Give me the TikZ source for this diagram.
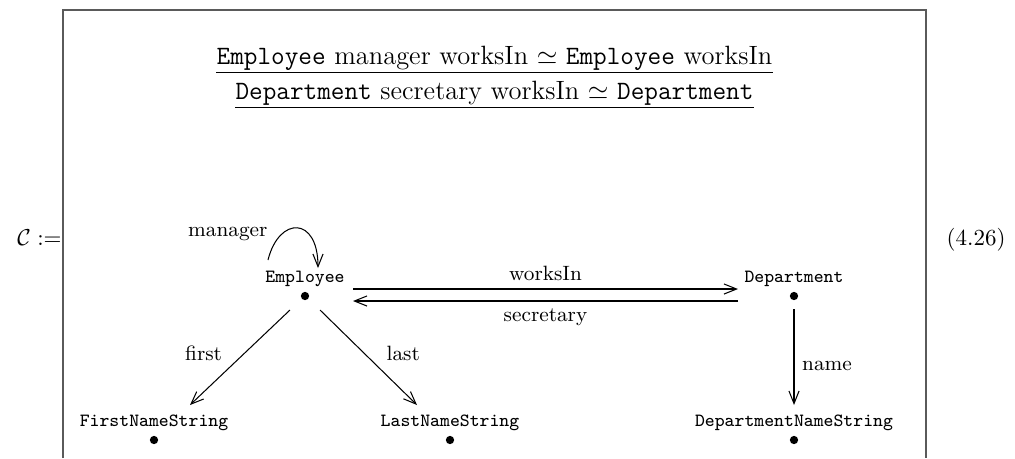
\documentclass[tikz,border=0pt]{standalone}
\usepackage{fix-cm}
\usepackage{amsmath}
\usepackage{amssymb}
\usepackage{xcolor}
\usepackage{tikz}
\usetikzlibrary{arrows.meta,positioning,calc}
\definecolor{FrameGray}{HTML}{5A5A5A}

\begin{document}
\begin{tikzpicture}[x=0.01528cm, y=-0.01528cm,
  every node/.style={font=\fontsize{9}{11}\selectfont},
  dotv/.style={circle, fill, inner sep=0pt, minimum size=3.6pt},
  vlbl/.style={font=\fontsize{8.1}{10}\selectfont\ttfamily, inner sep=0pt},
  arr/.style={-{Straight Barb[length=5.5pt, width=4.4pt]}, line width=0.45pt}]
  \useasboundingbox (0,0) rectangle (1015,458);
  % frame, open at the bottom
  \draw[FrameGray, line width=0.7pt] (63,458) -- (63,10) -- (926,10) -- (926,458);

  \node[anchor=east, inner sep=0pt, font=\fontsize{10}{12}\selectfont] (cdef) at (62,238) {$\mathcal{C} :=$};
  \node[anchor=east, inner sep=0pt, font=\fontsize{10}{12}\selectfont] (eqno) at (1006,240) {(4.26)};

  % path equation
  \node[inner sep=0pt, font=\fontsize{11.5}{14}\selectfont] (eq1) at (494.5,58) {\texttt{Employee} manager worksIn $\simeq$ \texttt{Employee} worksIn};
  \node[inner sep=0pt, font=\fontsize{11.5}{14}\selectfont] (eq2) at (494.5,93) {\texttt{Department} secretary worksIn $\simeq$ \texttt{Department}};
  \draw[line width=0.5pt] ($(eq1.south west)+(0,2)$) -- ($(eq1.south east)+(0,2)$);
  \draw[line width=0.5pt] ($(eq2.south west)+(0,2)$) -- ($(eq2.south east)+(0,2)$);

  % objects
  \node[dotv] (emp) at (305,296) {};
  \node[dotv] (dep) at (794,296) {};
  \node[dotv] (fns) at (154,440) {};
  \node[dotv] (lns) at (450,440) {};
  \node[dotv] (dns) at (794,440) {};
  \node[vlbl, above=2pt of emp] (emp-l) {Employee};
  \node[vlbl, above=2pt of dep] (dep-l) {Department};
  \node[vlbl, above=2pt of fns] (fns-l) {FirstNameString};
  \node[vlbl, above=2pt of lns] (lns-l) {LastNameString};
  \node[vlbl, above=2pt of dns] (dns-l) {DepartmentNameString};

  % arrows
  \draw[arr] ($(emp)+(48,-7)$) -- node[above] {worksIn} ($(dep)+(-56,-7)$);
  \draw[arr] ($(dep)+(-56,5)$) -- node[below] {secretary} ($(emp)+(48,5)$);
  \draw[arr] ($(emp)+(-15,14)$) -- node[pos=0.46, left=6pt] {first} ($(fns)+(36,-35)$);
  \draw[arr] ($(emp)+(15,14)$) -- node[pos=0.46, right=6pt] {last} ($(lns)+(-33,-35)$);
  \draw[arr] ($(dep)+(0,13)$) -- node[pos=0.59, right] {name} ($(dns)+(0,-35)$);
  \draw[arr] ($(emp)+(-37,-36)$) .. controls ($(emp)+(-26,-80)$) and ($(emp)+(13,-80)$) .. ($(emp)+(13,-28)$)
    node[at start, anchor=south east, inner sep=0pt, yshift=8pt] {manager};
\end{tikzpicture}
\end{document}
